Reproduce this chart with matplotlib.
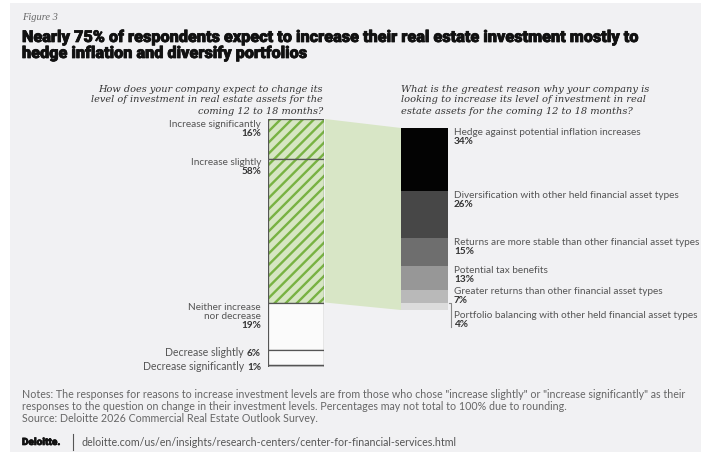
import matplotlib.pyplot as plt
import matplotlib.patheffects as pe
from matplotlib.patches import Rectangle, Polygon
import numpy as np

W, H = 701, 454

# survey data
change_labels = ['Increase significantly', 'Increase slightly', 'Neither increase\nnor decrease',
                 'Decrease slightly', 'Decrease significantly']
change_values = [16, 58, 19, 6, 1]
change_inline = [False, False, False, True, True]

reason_labels = ['Hedge against potential inflation increases',
                 'Diversification with other held financial asset types',
                 'Returns are more stable than other financial asset types',
                 'Potential tax benefits',
                 'Greater returns than other financial asset types',
                 'Portfolio balancing with other held financial asset types']
reason_values = [34, 26, 15, 13, 7, 4]
reason_colors = ['#030303', '#474747', '#6e6e6e', '#979797', '#b9b9b9', '#dcdcdc']

title_lines = ['Nearly 75% of respondents expect to increase their real estate investment mostly to',
               'hedge inflation and diversify portfolios']
q_left = ['How does your company expect to change its',
          'level of investment in real estate assets for the',
          'coming 12 to 18 months?']
q_right = ['What is the greatest reason why your company is',
           'looking to increase its level of investment in real',
           'estate assets for the coming 12 to 18 months?']
notes = ['Notes: The responses for reasons to increase investment levels are from those who chose "increase slightly" or "increase significantly" as their',
         'responses to the question on change in their investment levels. Percentages may not total to 100% due to rounding.',
         'Source: Deloitte 2026 Commercial Real Estate Outlook Survey.']

SANS = 'Lato'
SERIF = 'DejaVu Serif'
LBL = '#555555'
PCT = '#333333'
FS = 7.2

plt.rcParams['hatch.linewidth'] = 1.7

fig = plt.figure(figsize=(W / 100, H / 100), dpi=100)
fig.patch.set_facecolor('white')

bg = fig.add_axes([0, 0, 1, 1])
bg.set_xlim(0, W)
bg.set_ylim(H, 0)
bg.axis('off')
bg.add_patch(Rectangle((10, 3), W - 10, 449, facecolor='#f1f1f3', edgecolor='none'))

heavy = [pe.withStroke(linewidth=0.55, foreground='#111111')]

# header
bg.text(22, 17, 'Figure 3', family='Liberation Serif', style='italic', fontsize=7.5, color='#666666', va='center')
for i, line in enumerate(title_lines):
    bg.text(22, 37 + 16 * i, line, family='Roboto', weight='black', fontsize=11.7, color='#111111',
            va='center', path_effects=heavy)
for i, line in enumerate(q_left):
    bg.text(323, 89 + 11 * i, line, family=SERIF, style='italic', fontsize=7.0, color='#333333',
            va='center', ha='right')
for i, line in enumerate(q_right):
    bg.text(401, 89 + 11 * i, line, family=SERIF, style='italic', fontsize=7.1, color='#333333',
            va='center', ha='left')

# left stacked bar
axl = fig.add_axes([268 / W, 1 - 367 / H, 56 / W, 248 / H])
axl.set_xlim(-0.5, 0.5)
axl.set_ylim(sum(change_values), 0)
axl.axis('off')
starts_l = np.concatenate([[0], np.cumsum(change_values)[:-1]])
fills = ['#d6e6c3', '#d6e6c3', '#fbfbfb', '#fbfbfb', '#cfcfcf']
for i, (v, s) in enumerate(zip(change_values, starts_l)):
    if i < 2:
        axl.bar(0, v, bottom=s, width=1, color=fills[i], edgecolor='#78b243', hatch='///', lw=0)
    axl.bar(0, v, bottom=s, width=1, facecolor=fills[i] if i >= 2 else 'none',
            edgecolor='#555555', lw=0.9)

label_dy = [-1.5, 1, 0, 1, 2]
for lab, v, s, inline, dy in zip(change_labels, change_values, starts_l, change_inline, label_dy):
    if inline:
        p = axl.annotate(f'{v}%', xy=(0, s), xycoords=('axes fraction', 'data'), xytext=(-7, dy),
                         textcoords='offset pixels', ha='right', va='top', family=SANS,
                         weight='bold', fontsize=FS, color=PCT)
        axl.annotate(lab, xy=(0, 0), xycoords=p, xytext=(-3, 0), textcoords='offset pixels',
                     ha='right', va='bottom', family=SANS, fontsize=FS + 0.4, color=LBL)
    else:
        t = axl.annotate(lab, xy=(0, s), xycoords=('axes fraction', 'data'), xytext=(-7, dy),
                         textcoords='offset pixels', ha='right', va='top', family=SANS,
                         fontsize=FS, color=LBL, multialignment='right', linespacing=1.0)
        axl.annotate(f'{v}%', xy=(1, 0), xycoords=t, ha='right', va='top', family=SANS,
                     weight='bold', fontsize=FS, color=PCT)

# right stacked bar
axr = fig.add_axes([401 / W, 1 - 310 / H, 47 / W, 182 / H])
axr.set_xlim(-0.5, 0.5)
axr.set_ylim(sum(reason_values), 0)
axr.axis('off')
starts_r = np.concatenate([[0], np.cumsum(reason_values)[:-1]])
axr.bar(np.zeros(len(reason_values)), reason_values, bottom=starts_r, width=1,
        color=reason_colors, lw=0)

reason_dy = [0, 0, 0, 0, 2.5, -8]
for lab, v, s, dy in zip(reason_labels, reason_values, starts_r, reason_dy):
    t = axr.annotate(lab, xy=(1, s), xycoords=('axes fraction', 'data'), xytext=(6, dy),
                     textcoords='offset pixels', ha='left', va='top', family=SANS,
                     fontsize=FS, color=LBL)
    axr.annotate(f'{v}%', xy=(0, 0), xycoords=t, ha='left', va='top', family=SANS,
                 weight='bold', fontsize=FS, color=PCT)

# leader for last reason
last = starts_r[-1]
axr.plot([1.03, 1.07, 1.07], [last, last, last + 13], color='#888888', lw=0.8,
         transform=axr.get_yaxis_transform(), clip_on=False)

# green connector between the bars
inc_total = change_values[0] + change_values[1]
pts_disp = [axl.transData.transform((0.5, 0)), axr.transData.transform((-0.5, 0)),
            axr.transData.transform((-0.5, sum(reason_values))),
            axl.transData.transform((0.5, inc_total))]
pts = bg.transData.inverted().transform(pts_disp)
pts[0][0] += 1
pts[3][0] += 1
bg.add_patch(Polygon(pts, closed=True, facecolor='#d8e6c6', edgecolor='none'))

# footer
note_y = [394, 406, 419]
for y, line in zip(note_y, notes):
    bg.text(22, y, line, family=SANS, fontsize=7.7, color='#666666', va='center')
bg.text(22, 442, 'Deloitte.', family='Roboto', weight='black', fontsize=7.2, color='#111111', va='center',
        path_effects=[pe.withStroke(linewidth=0.5, foreground='#111111')])
bg.plot([73, 73], [434, 450], color='#555555', lw=0.8)
bg.text(81, 442, 'deloitte.com/us/en/insights/research-centers/center-for-financial-services.html',
        family=SANS, fontsize=7.7, color='#555555', va='center')

fig.savefig('out.png', dpi=100, facecolor=fig.get_facecolor())
